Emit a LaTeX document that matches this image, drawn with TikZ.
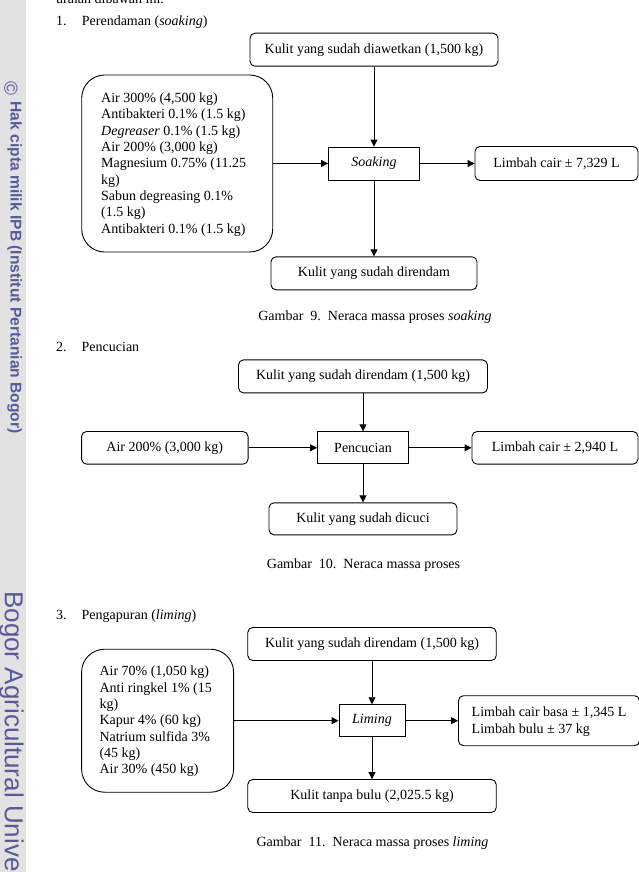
\documentclass[tikz,border=0pt]{standalone}
\usepackage{fontspec}
\setmainfont{Liberation Serif}
\newfontfamily\wmfont{Liberation Sans}
\usetikzlibrary{arrows.meta}
\definecolor{wmblue}{RGB}{88,88,155}
\definecolor{wmgray}{RGB}{226,226,226}
\begin{document}
\begin{tikzpicture}[x=1pt,y=-1pt,
  font=\fontsize{14}{16.3}\selectfont,
  box/.style={draw, line width=0.9pt, rounded corners=5pt, inner sep=0pt, align=center},
  procbox/.style={draw, line width=0.9pt, inner sep=0pt, align=center},
  bigbox/.style={draw, line width=0.9pt, rounded corners=23pt, inner sep=0pt},
  boxtext/.style={inner sep=0pt, anchor=west, align=left},
  arr/.style={line width=0.9pt, -{Triangle[length=7pt,width=7pt]}},
  lbl/.style={inner sep=0pt, anchor=base west},
  captext/.style={inner sep=0pt, anchor=base}]
\useasboundingbox (0,0) rectangle (639,872);
\clip (0,0) rectangle (639,872);
% watermark strip
\fill[wmgray] (0,0) rectangle (26,872);
\node[rotate=-90, inner sep=0pt, text=wmblue, font=\wmfont\fontsize{19}{19}\selectfont] (wmc) at (11,89) {©};
\node[rotate=-90, anchor=base west, inner sep=0pt, text=wmblue, font=\wmfont\bfseries\fontsize{15.6}{15.6}\selectfont] (wm1) at (10.5,101.5) {Hak cipta milik IPB (Institut Pertanian Bogor)};
\node[rotate=-90, anchor=base west, inner sep=0pt, text=wmblue, font=\wmfont\fontsize{26}{26}\selectfont] (wm2) at (5,591) {Bogor Agricultural University};
% headings
\node[lbl] (hdr) at (56,3.5) {uraian dibawah ini.};
\node[lbl] (n1) at (56,25.3) {1.};
\node[lbl] (h1) at (81.7,25.3) {Perendaman (\textit{soaking})};
\node[lbl] (n2) at (56,351) {2.};
\node[lbl] (h2) at (81.5,351) {Pencucian};
\node[lbl] (n3) at (56,619.3) {3.};
\node[lbl] (h3) at (81.5,619.3) {Pengapuran (\textit{liming})};
% section 1
\node[box, minimum width=248pt, minimum height=33pt] (top1) at (374,49.7) {Kulit yang sudah diawetkan (1,500 kg)};
\node[procbox, minimum width=91pt, minimum height=33pt] (soak) at (374,163.5) {\textit{Soaking}};
\node[box, minimum width=206pt, minimum height=33pt] (bot1) at (374,273.3) {Kulit yang sudah direndam};
\node[box, minimum width=163pt, minimum height=34pt] (limb1) at (556.5,163.5) {Limbah cair ± 7,329 L};
\node[bigbox, minimum width=191pt, minimum height=177pt] (left1) at (177.2,163.5) {};
\node[boxtext] (left1t) at (101,164.5)
 {Air 300\% (4,500 kg)\\Antibakteri 0.1\% (1.5 kg)\\\textit{Degreaser} 0.1\% (1.5 kg)\\Air 200\% (3,000 kg)\\Magnesium 0.75\% (11.25\\kg)\\Sabun degreasing 0.1\%\\(1.5 kg)\\Antibakteri 0.1\% (1.5 kg)};
\draw[arr] (top1) -- (soak);
\draw[arr] (left1) -- (soak);
\draw[arr] (soak) -- (limb1);
\draw[arr] (soak) -- (bot1);
\node[captext] (cap1) at (375,320.5) {Gambar~~9.~~Neraca massa proses \textit{soaking}};
% section 2
\node[box, minimum width=249pt, minimum height=33pt] (top2) at (363,376.4) {Kulit yang sudah direndam (1,500 kg)};
\node[procbox, minimum width=91pt, minimum height=32pt] (pen) at (363,447.8) {Pencucian};
\node[box, minimum width=188pt, minimum height=32pt] (bot2) at (363,518.8) {Kulit yang sudah dicuci};
\node[box, minimum width=166.5pt, minimum height=32.6pt] (air2) at (164.8,447.8) {Air 200\% (3,000 kg)};
\node[box, minimum width=166pt, minimum height=32.6pt] (limb2) at (555,447.8) {Limbah cair ± 2,940 L};
\draw[arr] (top2) -- (pen);
\draw[arr] (air2) -- (pen);
\draw[arr] (pen) -- (limb2);
\draw[arr] (pen) -- (bot2);
\node[captext] (cap2) at (363.5,568.5) {Gambar~~10.~~Neraca massa proses};
% section 3
\node[box, minimum width=248.5pt, minimum height=33pt] (top3) at (372,644) {Kulit yang sudah direndam (1,500 kg)};
\node[procbox, minimum width=66pt, minimum height=32pt] (lim) at (372,720.7) {\textit{Liming}};
\node[box, minimum width=248.5pt, minimum height=33pt] (bot3) at (372,796) {Kulit tanpa bulu (2,025.5 kg)};
\node[box, minimum width=181pt, minimum height=50pt] (limb3) at (549,720.7) {};
\node[boxtext] (limb3t) at (471.5,721.5) {Limbah cair basa ± 1,345 L\\Limbah bulu ± 37 kg};
\node[bigbox, minimum width=152pt, minimum height=143pt] (left3) at (157.6,720.7) {};
\node[boxtext] (left3t) at (99.3,721.5)
 {Air 70\% (1,050 kg)\\Anti ringkel 1\% (15\\kg)\\Kapur 4\% (60 kg)\\Natrium sulfida 3\%\\(45 kg)\\Air 30\% (450 kg)};
\draw[arr] (top3) -- (lim);
\draw[arr] (left3) -- (lim);
\draw[arr] (lim) -- (limb3);
\draw[arr] (lim) -- (bot3);
\node[captext] (cap3) at (372.5,846) {Gambar~~11.~~Neraca massa proses \textit{liming}};
\end{tikzpicture}
\end{document}
